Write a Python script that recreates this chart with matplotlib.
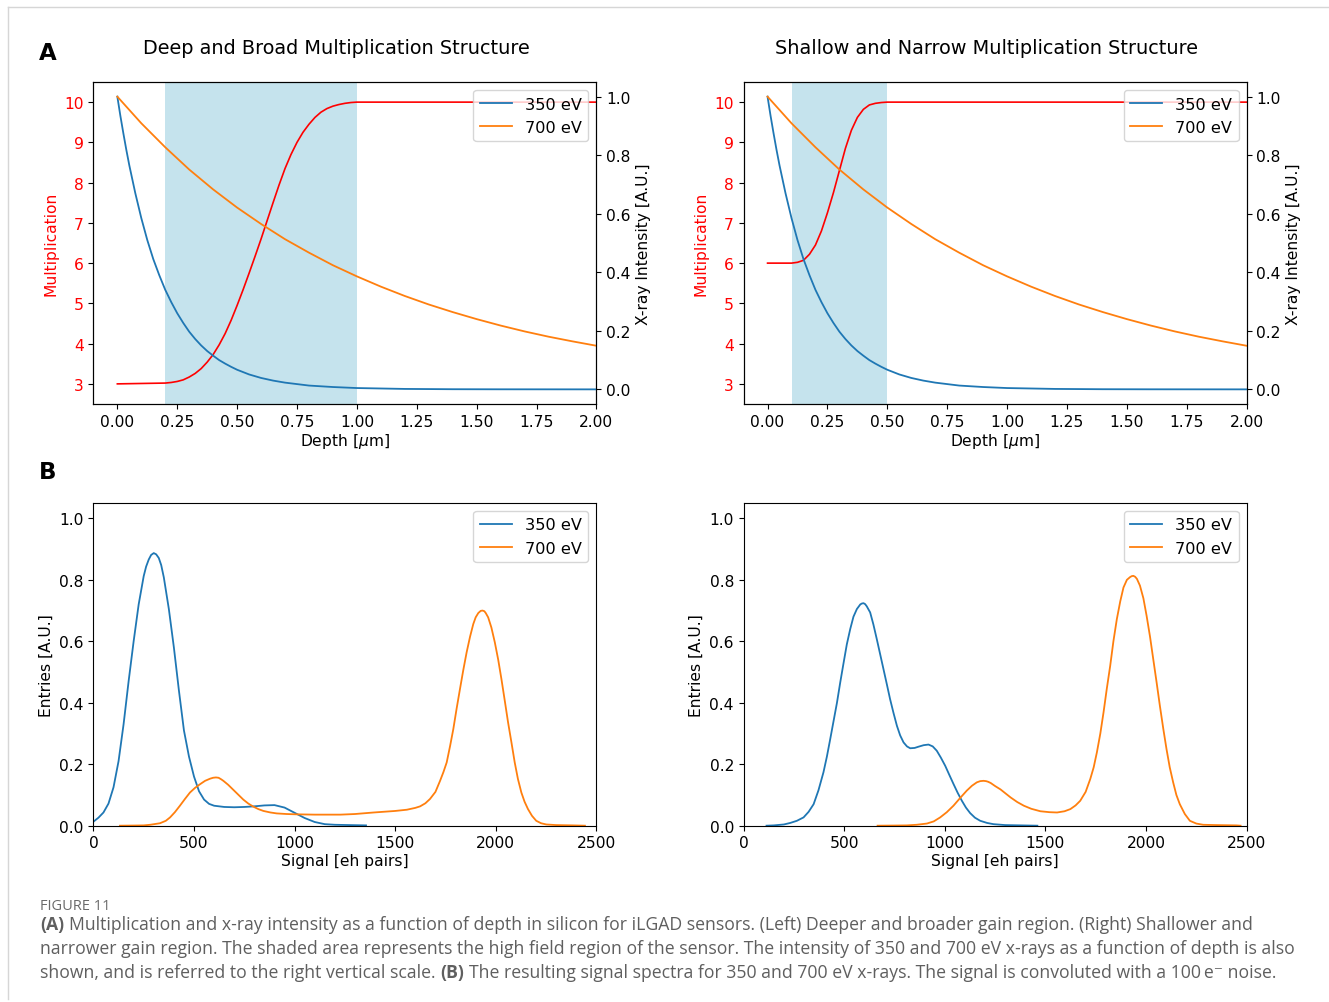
import matplotlib
matplotlib.use('Agg')
import matplotlib.pyplot as plt
from matplotlib.lines import Line2D

# ---------------- data ----------------
# Top row: multiplication vs depth
depth_mult_deep = [0.0, 0.2, 0.225, 0.25, 0.275, 0.3, 0.325, 0.35, 0.375, 0.4, 0.425, 0.45,
                   0.475, 0.5, 0.525, 0.55, 0.575, 0.6, 0.625, 0.65, 0.675, 0.7, 0.725,
                   0.75, 0.775, 0.8, 0.825, 0.85, 0.875, 0.9, 0.925, 0.95, 0.975, 1.0, 2.0]
mult_deep = [3.0, 3.02, 3.035, 3.06, 3.10, 3.17, 3.26, 3.38, 3.54, 3.73, 3.97, 4.25,
             4.58, 4.95, 5.34, 5.75, 6.17, 6.6, 7.05, 7.5, 7.94, 8.35, 8.70,
             9.0, 9.25, 9.45, 9.62, 9.75, 9.84, 9.9, 9.94, 9.97, 9.99, 10.0, 10.0]

depth_mult_shallow = [0.0, 0.1, 0.125, 0.15, 0.175, 0.2, 0.225, 0.25, 0.275, 0.3, 0.325,
                      0.35, 0.375, 0.4, 0.425, 0.45, 0.475, 0.5, 2.0]
mult_shallow = [6.0, 6.0, 6.02, 6.07, 6.22, 6.45, 6.8, 7.25, 7.75, 8.3, 8.85,
                9.3, 9.62, 9.82, 9.93, 9.97, 9.99, 10.0, 10.0]

# X-ray intensity vs depth (same in both panels)
depth_350 = [0.0, 0.0125, 0.025, 0.0375, 0.05, 0.075, 0.1, 0.125, 0.15, 0.175, 0.2, 0.225,
             0.25, 0.275, 0.3, 0.325, 0.35, 0.375, 0.4, 0.425, 0.45, 0.475, 0.5, 0.55, 0.6,
             0.65, 0.7, 0.75, 0.8, 0.9, 1.0, 1.2, 1.4, 1.6, 2.0]
intensity_350 = [1.0, 0.935, 0.875, 0.818, 0.765, 0.67, 0.585, 0.51, 0.445, 0.39, 0.34, 0.298,
                 0.26, 0.227, 0.197, 0.172, 0.15, 0.131, 0.115, 0.1, 0.088, 0.077, 0.067,
                 0.051, 0.039, 0.03, 0.023, 0.018, 0.013, 0.008, 0.0045, 0.0015, 0.0005,
                 0.0002, 0.0]
depth_700 = [0.0, 0.1, 0.2, 0.3, 0.4, 0.5, 0.6, 0.7, 0.8, 0.9, 1.0, 1.1, 1.2, 1.3, 1.4,
             1.5, 1.6, 1.7, 1.8, 1.9, 2.0]
intensity_700 = [1.0, 0.909, 0.827, 0.751, 0.683, 0.621, 0.565, 0.513, 0.467, 0.424, 0.386,
                 0.351, 0.319, 0.290, 0.264, 0.240, 0.218, 0.198, 0.180, 0.164, 0.149]

# High field regions (shaded)
span_deep = (0.2, 1.0)
span_shallow = (0.1, 0.5)

# Bottom row: signal spectra
sig_deep_350 = [0, 25, 50, 75, 100, 125, 150, 175, 200, 225, 250, 262, 275, 287, 300, 312,
                325, 337, 350, 375, 400, 425, 450, 475, 500, 525, 550, 575, 600, 650, 700,
                750, 800, 850, 900, 950, 1000, 1050, 1100, 1150, 1200, 1275, 1355]
ent_deep_350 = [0.013, 0.026, 0.043, 0.072, 0.125, 0.21, 0.33, 0.47, 0.60, 0.72, 0.812, 0.843,
                0.866, 0.881, 0.887, 0.883, 0.871, 0.848, 0.808, 0.705, 0.58, 0.44, 0.31,
                0.225, 0.16, 0.112, 0.085, 0.071, 0.065, 0.061, 0.060, 0.061, 0.063, 0.066,
                0.067, 0.059, 0.042, 0.025, 0.012, 0.005, 0.003, 0.002, 0.001]

sig_deep_700 = [132, 200, 250, 282, 331, 360, 381, 405, 430, 455, 480, 505, 530, 555, 580,
                595, 609, 622, 635, 646, 670, 695, 720, 745, 770, 795, 820, 845, 880, 911,
                960, 1010, 1100, 1228, 1300, 1393, 1500, 1558, 1600, 1624, 1650, 1673,
                1700, 1723, 1740, 1756, 1773, 1789, 1805, 1822, 1838, 1855, 1872, 1888,
                1900, 1913, 1925, 1934, 1943, 1950, 1962, 1978, 1995, 2012, 2028, 2045,
                2061, 2078, 2094, 2110, 2127, 2143, 2160, 2180, 2201, 2225, 2251, 2300,
                2383, 2443]
ent_deep_700 = [0.0, 0.0005, 0.001, 0.003, 0.008, 0.016, 0.027, 0.044, 0.065, 0.087, 0.108,
                0.123, 0.135, 0.146, 0.153, 0.156, 0.157, 0.156, 0.151, 0.146, 0.133, 0.117,
                0.101, 0.085, 0.072, 0.062, 0.054, 0.048, 0.043, 0.040, 0.038, 0.037, 0.036,
                0.036, 0.038, 0.043, 0.048, 0.052, 0.058, 0.063, 0.073, 0.087, 0.11, 0.146,
                0.175, 0.206, 0.26, 0.315, 0.38, 0.445, 0.505, 0.564, 0.615, 0.656, 0.678,
                0.692, 0.699, 0.70, 0.698, 0.692, 0.678, 0.645, 0.597, 0.54, 0.477, 0.405,
                0.336, 0.27, 0.206, 0.152, 0.108, 0.078, 0.054, 0.032, 0.016, 0.008, 0.004,
                0.002, 0.001, 0.0]

sig_shallow_350 = [114, 150, 200, 232, 265, 298, 323, 348, 372, 397, 414, 430, 447, 464, 480,
                   497, 513, 530, 546, 563, 580, 588, 596, 604, 612, 629, 645, 662, 678, 695,
                   712, 728, 745, 762, 778, 795, 812, 828, 850, 869, 895, 919, 940, 960, 980,
                   1002, 1022, 1043, 1064, 1085, 1105, 1126, 1150, 1176, 1210, 1242, 1300,
                   1380, 1460]
ent_shallow_350 = [0.0, 0.001, 0.004, 0.009, 0.016, 0.027, 0.045, 0.07, 0.115, 0.174, 0.225,
                   0.28, 0.34, 0.40, 0.465, 0.53, 0.59, 0.64, 0.68, 0.705, 0.72, 0.723, 0.724,
                   0.721, 0.714, 0.694, 0.655, 0.607, 0.56, 0.51, 0.46, 0.412, 0.367, 0.325,
                   0.294, 0.271, 0.258, 0.252, 0.253, 0.257, 0.262, 0.264, 0.258, 0.244,
                   0.222, 0.195, 0.166, 0.136, 0.107, 0.081, 0.059, 0.041, 0.026, 0.016, 0.009,
                   0.005, 0.002, 0.001, 0.0]

sig_shallow_700 = [666, 750, 811, 860, 911, 945, 977, 1010, 1043, 1076, 1109, 1135, 1159,
                   1176, 1192, 1205, 1215, 1228, 1250, 1277, 1300, 1327, 1360, 1393, 1430,
                   1475, 1520, 1558, 1595, 1624, 1650, 1673, 1700, 1723, 1740, 1756, 1773,
                   1789, 1805, 1822, 1838, 1855, 1872, 1888, 1905, 1921, 1929, 1937, 1946,
                   1955, 1970, 1987, 2003, 2020, 2036, 2053, 2069, 2086, 2102, 2118, 2135,
                   2151, 2168, 2193, 2218, 2250, 2284, 2350, 2449, 2470]
ent_shallow_700 = [0.0, 0.0005, 0.001, 0.003, 0.007, 0.014, 0.027, 0.044, 0.065, 0.09, 0.114,
                   0.13, 0.141, 0.145, 0.146, 0.145, 0.143, 0.139, 0.129, 0.118, 0.106, 0.092,
                   0.077, 0.065, 0.055, 0.047, 0.044, 0.043, 0.047, 0.054, 0.066, 0.081, 0.11,
                   0.152, 0.19, 0.239, 0.30, 0.369, 0.445, 0.52, 0.6, 0.672, 0.73, 0.775, 0.8,
                   0.809, 0.812, 0.813, 0.81, 0.803, 0.781, 0.74, 0.683, 0.615, 0.542, 0.465,
                   0.39, 0.315, 0.249, 0.19, 0.141, 0.1, 0.07, 0.038, 0.016, 0.007, 0.003,
                   0.002, 0.001, 0.0]

labels = ['350 eV', '700 eV']
titles = ['Deep and Broad Multiplication Structure', 'Shallow and Narrow Multiplication Structure']
mult_ticks = [3, 4, 5, 6, 7, 8, 9, 10]
depth_ticks = [0.0, 0.25, 0.5, 0.75, 1.0, 1.25, 1.5, 1.75, 2.0]
signal_ticks = [0, 500, 1000, 1500, 2000, 2500]

# ---------------- styling ----------------
C_BLUE = '#1f77b4'
C_ORANGE = '#ff7f0e'
FS = 11.2
plt.rcParams['font.family'] = ['DejaVu Sans']
plt.rcParams['font.size'] = FS
plt.rcParams['lines.linewidth'] = 1.3

W, H = 1329, 1003
fig = plt.figure(figsize=(W / 100, H / 100), dpi=100)


def fx(px):
    return px / W


def fy(py):
    return 1 - py / H


def top_panel(left_px, depth_m, mult, span):
    ax = fig.add_axes([fx(left_px), fy(405), 503 / W, 322 / H])
    ax.axvspan(span[0], span[1], color='lightblue', alpha=0.7, lw=0, zorder=0)
    ax.plot(depth_m, mult, color='red', lw=1.2)
    ax.set_xlim(-0.1, 2.0)
    ax.set_ylim(2.5, 10.5)
    ax.set_yticks(mult_ticks)
    ax.set_xticks(depth_ticks)
    ax.set_xticklabels(['%.2f' % t for t in depth_ticks])
    ax.tick_params(axis='y', labelcolor='red')
    ax.set_ylabel('Multiplication', color='red', labelpad=4)
    ax.set_xlabel('Depth [$\\mu$m]', labelpad=2)
    ax2 = ax.twinx()
    ax2.plot(depth_350, intensity_350, color=C_BLUE, label=labels[0])
    ax2.plot(depth_700, intensity_700, color=C_ORANGE, label=labels[1])
    ax2.set_ylim(-0.05, 1.05)
    ax2.set_yticks([0.0, 0.2, 0.4, 0.6, 0.8, 1.0])
    ax2.set_ylabel('X-ray Intensity [A.U.]', labelpad=4)
    ax2.legend(loc='upper right', fontsize=11.6)
    return ax


def bottom_panel(left_px, s350, e350, s700, e700):
    ax = fig.add_axes([fx(left_px), fy(826.7), 503 / W, 322.7 / H])
    ax.plot(s350, e350, color=C_BLUE, label=labels[0])
    ax.plot(s700, e700, color=C_ORANGE, label=labels[1])
    ax.set_xlim(0, 2500)
    ax.set_ylim(0, 1.05)
    ax.set_xticks(signal_ticks)
    ax.set_yticks([0.0, 0.2, 0.4, 0.6, 0.8, 1.0])
    ax.set_xlabel('Signal [eh pairs]', labelpad=2)
    ax.set_ylabel('Entries [A.U.]', labelpad=4)
    ax.legend(loc='upper right', fontsize=11.6)
    return ax


top_panel(93.4, depth_mult_deep, mult_deep, span_deep)
top_panel(743.6, depth_mult_shallow, mult_shallow, span_shallow)
bottom_panel(93.4, sig_deep_350, ent_deep_350, sig_deep_700, ent_deep_700)
bottom_panel(743.6, sig_shallow_350, ent_shallow_350, sig_shallow_700, ent_shallow_700)

fig.text(fx(336.5), fy(48), titles[0], ha='center', va='center', fontsize=13.9)
fig.text(fx(986.5), fy(48), titles[1], ha='center', va='center', fontsize=13.9)
fig.text(fx(39), fy(53), 'A', ha='left', va='center', fontsize=16.5, weight='bold')
fig.text(fx(39), fy(473), 'B', ha='left', va='center', fontsize=16.5, weight='bold')

# page frame lines
fig.add_artist(Line2D([fx(8), 1.0], [fy(8), fy(8)], color='#d6d6d6', lw=1.0))
fig.add_artist(Line2D([fx(8), fx(8)], [fy(8), fy(1000)], color='#d6d6d6', lw=1.0))

# ---------------- caption ----------------
CAP_FAM = ['Open Sans', 'DejaVu Sans']
CAP_COL = '#5f5f5f'
CAP_FS = 12.7
renderer = fig.canvas.get_renderer()


def width_of(txt, bold=False, fs=CAP_FS):
    t = fig.text(0, 0, txt, family=CAP_FAM, fontsize=fs, weight='bold' if bold else 'normal')
    w = t.get_window_extent(renderer).width
    t.remove()
    return w


space_w = width_of('x x') - width_of('xx')


def rich_line(x_px, y_px, parts):
    x = x_px
    for txt, bold in parts:
        t = fig.text(fx(x), fy(y_px), txt, family=CAP_FAM, fontsize=CAP_FS, color=CAP_COL,
                     weight='bold' if bold else 'normal', ha='left', va='baseline')
        x += t.get_window_extent(renderer).width + space_w


fig.text(fx(40), fy(910), 'FIGURE 11', family=CAP_FAM, fontsize=10.5, color='#6a6a6a',
         ha='left', va='baseline')
rich_line(40, 930, [('(A)', True),
                    ('Multiplication and x-ray intensity as a function of depth in silicon for iLGAD '
                     'sensors. (Left) Deeper and broader gain region. (Right) Shallower and', False)])
rich_line(40, 954, [('narrower gain region. The shaded area represents the high field region of the '
                     'sensor. The intensity of 350 and 700 eV x-rays as a function of depth is also',
                     False)])
rich_line(40, 978, [('shown, and is referred to the right vertical scale.', False),
                    ('(B)', True),
                    ('The resulting signal spectra for 350 and 700 eV x-rays. The signal is '
                     'convoluted with a 100\u2009e\u207b noise.', False)])

fig.savefig('out.png', dpi=100)
